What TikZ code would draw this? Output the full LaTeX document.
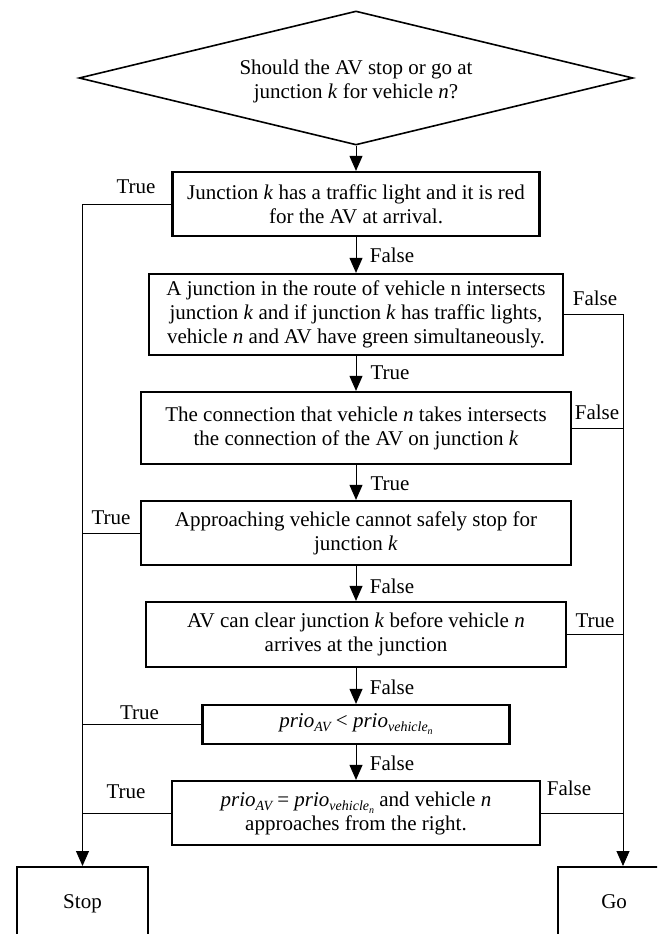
\documentclass[tikz,border=0pt]{standalone}
\usepackage{fontspec}
\setmainfont{Liberation Serif}
\usetikzlibrary{arrows.meta,shapes.geometric,calc}
\newcommand{\subA}[1]{\raisebox{-4pt}{\fontsize{14}{14}\selectfont\itshape #1}}
\newcommand{\subB}[1]{\raisebox{-3pt}{\fontsize{10}{10}\selectfont\itshape #1}}
\newcommand{\prioAV}{\textit{prio}\subA{AV}}
\newcommand{\prioVn}{\textit{prio}\subA{vehicle\subB{n}}}
\begin{document}
\begin{tikzpicture}[x=1pt,y=-1pt,
  font=\fontsize{21}{24}\selectfont,
  box/.style={draw, line width=2.2pt, align=center, inner sep=0pt},
  endbox/.style={draw, line width=2.2pt, inner sep=0pt, text height=41pt, text depth=39pt},
  dia/.style={draw, line width=1.6pt, diamond, aspect=4.1, inner sep=0pt, align=center,
    minimum width=554pt, minimum height=134pt},
  conn/.style={draw, line width=0.9pt},
  arr/.style={conn, -{Triangle[width=13pt,length=15pt]}},
  lab/.style={inner sep=0pt, text depth=0pt}]
\useasboundingbox (0,0) rectangle (657,934);
\clip (0,0) rectangle (657,934);

\node[dia] (d) at (356,78) {\rule{0pt}{22pt}Should the AV stop or go at\\junction \textit{k} for vehicle \textit{n}?};

\node[box, minimum width=367pt, minimum height=64pt] (b1) at (356,204)
  {Junction \textit{k} has a traffic light and it is red\\for the AV at arrival.};
\node[box, minimum width=414pt, minimum height=81pt] (b2) at (356,314.5)
  {A junction in the route of vehicle n intersects\\junction \textit{k} and if junction \textit{k} has traffic lights,\\vehicle \textit{n} and AV have green simultaneously.};
\node[box, minimum width=430pt, minimum height=72pt] (b3) at (356,428)
  {The connection that vehicle \textit{n} takes intersects\\the connection of the AV on junction \textit{k}};
\node[box, minimum width=430pt, minimum height=64pt] (b4) at (356,533)
  {Approaching vehicle cannot safely stop for\\junction \textit{k}};
\node[box, minimum width=420pt, minimum height=65pt] (b5) at (356,634.5)
  {AV can clear junction \textit{k} before vehicle \textit{n}\\arrives at the junction};
\node[box, minimum width=307pt, minimum height=39pt] (b6) at (356,724.5)
  {\prioAV{} < \prioVn};
\node[box, minimum width=368pt, minimum height=64pt] (b7) at (356,813)
  {\prioAV{} = \prioVn{} and vehicle \textit{n}\\approaches from the right.};

\node[endbox, anchor=north, minimum width=131pt] (stop) at (82.5,866) {Stop};
\node[endbox, anchor=north west, minimum width=126pt] (go) at (557,866) {\hspace*{-14pt}Go};
\coordinate (goin) at ($(go.north west)+(66,0)$);

% main column
\draw[arr] (d.south) -- (b1.north);
\draw[arr] (b1.south) -- (b2.north);
\draw[arr] (b2.south) -- (b3.north);
\draw[arr] (b3.south) -- (b4.north);
\draw[arr] (b4.south) -- (b5.north);
\draw[arr] (b5.south) -- (b6.north);
\draw[arr] (b6.south) -- (b7.north);

% left (Stop) side
\draw[arr] (b1.west) -| (stop.north);
\draw[conn] (b4.west) -- (b4.west -| stop.north);
\draw[conn] (b6.west) -- (b6.west -| stop.north);
\draw[conn] (b7.west) -- (b7.west -| stop.north);

% right (Go) side
\draw[arr] (b2.east) -| (goin);
\draw[conn] (b3.east) -- (b3.east -| goin);
\draw[conn] (b5.east) -- (b5.east -| goin);
\draw[conn] (b7.east) -- (b7.east -| goin);

% labels
\node[lab] (t1) at (136,187) {True};
\node[lab] (f1) at (392,255) {False};
\node[lab] (f2) at (595,298) {False};
\node[lab] (t2) at (390,373) {True};
\node[lab] (f3) at (597,412) {False};
\node[lab] (t3) at (390,484) {True};
\node[lab] (t4) at (111,518) {True};
\node[lab] (f4) at (392,586) {False};
\node[lab] (t5) at (595,621) {True};
\node[lab] (f5) at (392,687) {False};
\node[lab] (t6) at (139.5,713) {True};
\node[lab] (f6) at (392,763) {False};
\node[lab] (t7) at (126,792) {True};
\node[lab] (f7) at (569,788) {False};
\end{tikzpicture}
\end{document}
